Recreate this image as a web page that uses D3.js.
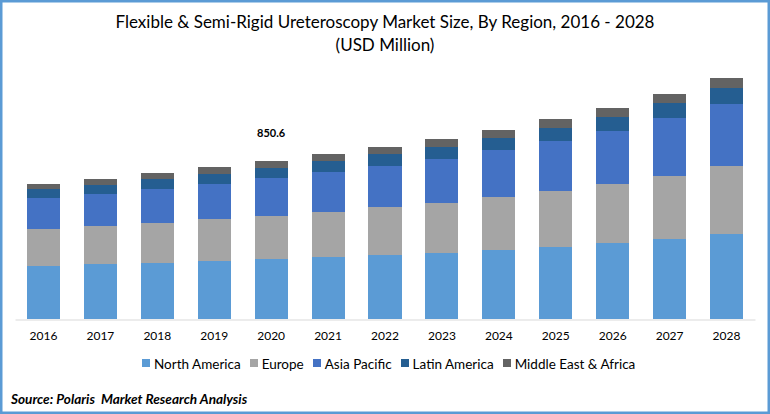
<!DOCTYPE html>
<html>
<head>
    <title>Flexible & Semi-Rigid Ureteroscopy Market Size</title>
    <script src="https://d3js.org/d3.v7.min.js"></script>
    <style>
        html, body { margin: 0; padding: 0; background: #fff; }
        svg { display: block; font-family: Lato, "Open Sans", sans-serif; }
    </style>
</head>
<body>
<script>
    // Values (USD Million)
    var years = ["2016", "2017", "2018", "2019", "2020", "2021", "2022", "2023", "2024", "2025", "2026", "2027", "2028"];
    var northAmerica = [285, 296, 301, 312, 323, 333, 344, 355, 371, 387, 409, 430, 457];
    var europe = [199, 204, 215, 226, 231, 242, 258, 269, 285, 301, 317, 339, 366];
    var asiaPacific = [167, 172, 183, 188, 204, 215, 220, 237, 253, 269, 285, 312, 333];
    var latinAmerica = [48, 48, 54, 54, 54, 59, 65, 65, 65, 70, 75, 81, 86];
    var middleEastAfrica = [27, 32, 32, 38, 38.6, 38, 38, 43, 43, 48, 48, 48, 54];

    var regions = ["North America", "Europe", "Asia Pacific", "Latin America", "Middle East & Africa"];
    var regionValues = [northAmerica, europe, asiaPacific, latinAmerica, middleEastAfrica];
    var colors = ["#5b9bd5", "#a5a5a5", "#4472c4", "#255e91", "#636363"];

    var labelYear = "2020";
    var labelText = "850.6";

    var width = 770, height = 414;

    var svg = d3.select("body").append("svg")
        .attr("width", width)
        .attr("height", height);

    // Blue frame round the picture
    svg.append("rect")
        .attr("x", 1.25).attr("y", 1.25)
        .attr("width", width - 2.5).attr("height", height - 2.5)
        .attr("fill", "#fff")
        .attr("stroke", "#5b9bd5")
        .attr("stroke-width", 2.5);

    // Title
    var title = svg.append("text")
        .attr("text-anchor", "middle")
        .attr("fill", "#000")
        .style("font-size", "17px");
    title.append("tspan").attr("x", 385).attr("y", 28)
        .text("Flexible & Semi-Rigid Ureteroscopy Market Size, By Region, 2016 - 2028");
    title.append("tspan").attr("x", 385).attr("y", 51)
        .text("(USD Million)");

    var x = d3.scaleBand()
        .domain(years)
        .range([15, 755])
        .paddingInner(0.42)
        .paddingOuter(0.21);

    var y = d3.scaleLinear()
        .domain([0, 1500])
        .range([319, 40]);

    // Build the stack from the separate arrays
    var rows = years.map(function (year, i) {
        var row = { year: year };
        regions.forEach(function (region, r) { row[region] = regionValues[r][i]; });
        return row;
    });
    var stacked = d3.stack().keys(regions)(rows);

    svg.append("g").selectAll("g")
        .data(stacked)
        .join("g")
        .attr("fill", function (d, i) { return colors[i]; })
        .selectAll("rect")
        .data(function (d) { return d; })
        .join("rect")
        .attr("x", function (d) { return x(d.data.year); })
        .attr("y", function (d) { return y(d[1]); })
        .attr("width", x.bandwidth())
        .attr("height", function (d) { return y(d[0]) - y(d[1]); })
        .attr("shape-rendering", "crispEdges");

    // Category axis
    var axis = svg.append("g")
        .attr("transform", "translate(0,319.5)")
        .call(d3.axisBottom(x).tickSize(0).tickPadding(12).tickSizeOuter(0));
    axis.select(".domain").attr("stroke", "#d9d9d9").attr("stroke-width", 1);
    axis.selectAll("text")
        .attr("fill", "#000")
        .style("font-family", "Lato, sans-serif")
        .style("font-size", "12px");

    // The one data label, above the 2020 bar
    svg.append("text")
        .attr("x", x(labelYear) + x.bandwidth() / 2)
        .attr("y", 137)
        .attr("text-anchor", "middle")
        .attr("fill", "#000")
        .style("font-size", "11px")
        .style("font-weight", "bold")
        .text(labelText);

    // Legend, laid out left to right from the measured text widths
    var legend = svg.append("g").attr("transform", "translate(142,359)");
    var legendX = 0;
    regions.forEach(function (region, i) {
        var item = legend.append("g").attr("transform", "translate(" + legendX + ",0)");
        item.append("rect")
            .attr("width", 8).attr("height", 8)
            .attr("fill", colors[i])
            .attr("shape-rendering", "crispEdges");
        var label = item.append("text")
            .attr("x", 12)
            .attr("y", 9.5)
            .attr("fill", "#000")
            .style("font-size", "13.5px")
            .text(region);
        legendX += 12 + label.node().getComputedTextLength() + 9;
    });

    // Source line
    svg.append("text")
        .attr("x", 11)
        .attr("y", 404)
        .attr("fill", "#000")
        .style("font-size", "13.6px")
        .style("font-weight", "bold")
        .style("font-style", "italic")
        .style("white-space", "pre")
        .text("Source: Polaris  Market Research Analysis");
</script>
</body>
</html>
